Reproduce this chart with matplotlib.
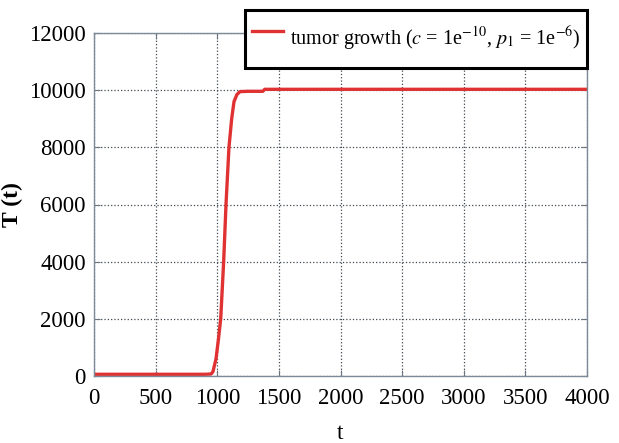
import matplotlib.pyplot as plt

# values
t = [0, 500, 900, 950, 965, 990, 1010, 1028, 1052, 1071, 1095, 1117, 1136,
     1160, 1185, 1250, 1370, 1385, 1500, 2000, 3000, 4000]
T = [60, 60, 60, 70, 150, 600, 1300, 2000, 4000, 6000, 8000, 9000, 9600,
     9850, 9950, 9960, 9960, 10030, 10030, 10030, 10030, 10030]

xticks = [0, 500, 1000, 1500, 2000, 2500, 3000, 3500, 4000]
yticks = [0, 2000, 4000, 6000, 8000, 10000, 12000]

plt.rcParams['font.family'] = ['Liberation Serif', 'DejaVu Serif']
plt.rcParams['mathtext.fontset'] = 'stix'

fig = plt.figure(figsize=(6.19, 4.43), dpi=100)
ax = fig.add_axes([94 / 619, 67 / 443, 493 / 619, 343 / 443])

line, = ax.plot(t, T, color='#e03232', lw=2.4,
                label=r'tumor growth ($c$ = 1e$^{-10}$, $p_1$ = 1e$^{-6}$)')

ax.set_xlim(0, 4000)
ax.set_ylim(0, 12000)
ax.set_xticks(xticks)
ax.set_yticks(yticks)
ax.grid(True, linestyle=':', color='#404850', lw=0.9)
ax.tick_params(direction='in', top=True, right=True, labelsize=16.5,
               color='#6a7580', length=4)
ax.tick_params(axis='x', pad=9)
ax.tick_params(axis='y', pad=6)
for s in ax.spines.values():
    s.set_color('#7d8a97')
    s.set_linewidth(1.0)

ax.set_xlabel('t', fontsize=17, labelpad=10)
ax.set_ylabel('T (t)', fontsize=17, fontweight='bold', labelpad=4)

leg = ax.legend(loc='upper right', bbox_to_anchor=(587 / 619, 1 - 10 / 443),
                bbox_transform=fig.transFigure, fontsize=14.5,
                fancybox=False, framealpha=1, handlelength=1.5,
                handletextpad=0.35, handleheight=3.0,
                borderpad=0.35, borderaxespad=0)
leg.get_frame().set_edgecolor('black')
leg.get_frame().set_linewidth(2.2)

fig.savefig('out.png', dpi=100)
